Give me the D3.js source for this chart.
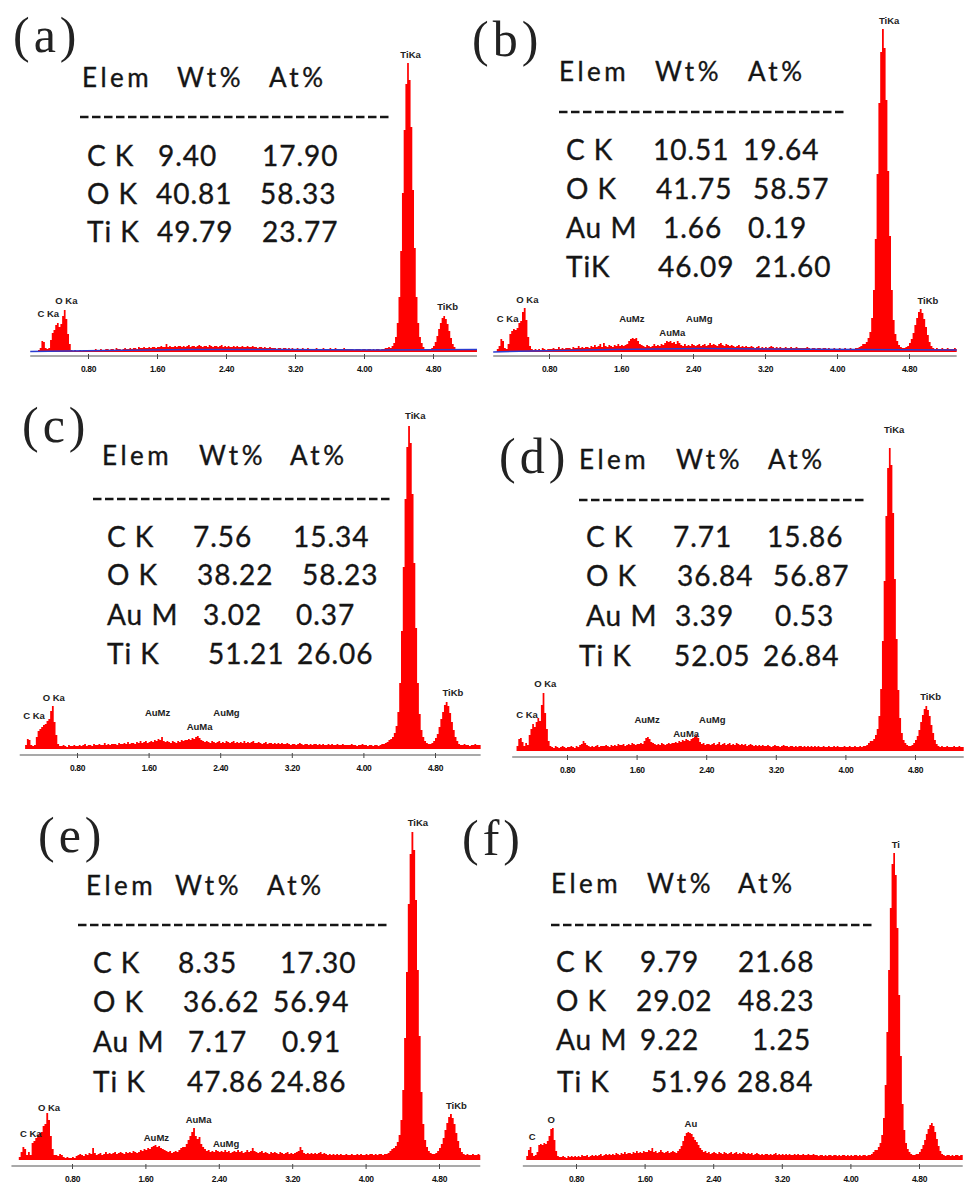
<!DOCTYPE html>
<html>
<head>
<meta charset="utf-8">
<script src="https://cdn.jsdelivr.net/npm/d3@7"></script>
<style>
body{margin:0;background:#fff;}
svg{display:block;}
.tbl{font-family:Lato,"Open Sans",sans-serif;fill:#151515;stroke:#151515;stroke-width:0.35px;}
.plab{font-family:"Liberation Sans",Arial,sans-serif;font-weight:bold;font-size:9.5px;fill:#222;}
.pname{font-family:"Liberation Serif","Times New Roman",serif;fill:#222;}
</style>
</head>
<body>
<div id="chart"></div>
<script>
// energy grid of the spectra (keV)
var E0 = 0.21, dE = 0.02;

var tickVals = [0.8, 1.6, 2.4, 3.2, 4.0, 4.8];
var tickLabels = ["0.80", "1.60", "2.40", "3.20", "4.00", "4.80"];

// counts (a.u.) per channel
var countsA = [
0,2,4,11,10,4,3,4,12,19,22,27,29,25,28,36,42,33,18,8,
2,1,2,1,1,2,1,2,2,1,2,2,1,2,3,2,2,3,2,2,
3,3,2,3,3,2,4,3,3,2,3,4,3,3,4,3,4,4,3,5,
4,4,5,4,4,5,4,5,5,4,5,5,6,5,5,8,5,6,5,5,
6,5,6,6,5,6,5,6,7,5,6,6,5,6,7,6,5,6,6,5,
7,6,5,6,6,5,6,7,5,6,5,6,5,5,6,5,6,5,5,6,
5,5,6,5,5,6,5,5,4,5,5,4,5,4,4,5,4,4,4,3,
4,4,3,4,4,3,4,3,4,3,3,4,3,3,4,3,3,4,3,3,
3,3,4,3,3,3,4,3,3,3,4,3,3,4,3,3,3,3,4,3,
3,3,3,3,2,3,3,3,2,3,3,2,3,3,2,3,2,3,3,2,
3,3,4,4,5,4,6,9,15,29,55,101,159,222,268,289,272,225,162,104,
55,29,15,9,5,3,2,2,3,4,6,10,16,23,29,34,36,33,28,21,
14,8,5,3,2,2,3,2,2,2,3,2,2,2,3,2,2,2,2,2
];
var countsB = [
0,3,6,13,11,4,3,8,18,21,23,22,24,29,31,40,44,32,15,6,
3,2,3,2,3,2,4,3,2,3,3,3,4,3,3,5,3,4,3,4,
4,4,3,5,4,4,6,4,5,4,5,5,4,6,5,7,5,6,8,5,
9,6,5,7,6,5,7,6,8,6,7,6,7,8,11,13,14,13,14,11,
8,7,6,5,7,6,5,6,8,6,7,6,8,7,9,11,10,11,9,10,
8,11,9,7,6,8,6,7,6,8,7,6,7,8,6,7,8,6,7,9,
7,8,7,6,8,9,7,6,8,7,6,7,6,5,6,7,5,6,5,6,
5,5,6,5,4,5,6,4,5,4,5,4,5,6,5,4,5,4,5,4,
4,5,4,4,5,4,4,5,4,4,4,4,4,5,4,3,4,4,3,4,
4,3,4,4,3,4,3,3,4,3,3,4,3,3,4,3,3,4,3,3,
4,4,5,6,8,8,10,14,20,34,62,113,178,249,300,323,304,252,181,116,
62,32,18,11,7,5,4,4,5,6,9,13,19,27,34,40,43,39,33,25,
17,10,6,4,3,4,3,3,4,3,3,4,3,3,3,4,3,3,3,3
];
var countsC = [
0,4,10,9,4,3,4,12,18,20,22,24,25,28,30,38,43,27,14,5,
3,3,4,3,2,4,3,3,4,3,3,4,3,4,5,3,4,4,3,5,
4,4,5,4,4,6,4,5,4,5,5,5,4,6,5,5,6,5,7,5,
6,6,5,7,6,8,6,7,8,6,7,8,7,9,8,10,9,12,8,7,
8,7,6,8,7,6,8,7,9,8,9,9,10,9,11,10,12,13,11,9,
8,7,8,7,6,8,7,6,7,8,6,7,6,8,7,6,7,8,6,7,
6,7,6,8,6,7,6,7,8,6,6,7,6,5,6,7,5,6,6,5,
6,5,6,5,6,5,5,6,5,4,5,5,4,5,6,5,4,5,5,4,
5,4,5,5,4,5,4,5,4,4,5,4,5,4,4,5,4,4,5,4,
4,4,4,5,4,4,3,4,4,5,4,4,3,4,4,3,4,4,3,4,
5,5,6,7,9,10,12,16,23,37,66,118,182,250,302,323,306,255,186,121,
66,35,19,12,8,6,5,5,6,8,11,15,22,30,37,44,47,43,36,27,
19,12,8,5,4,4,5,4,4,3,4,4,5,4,4,4,3,4,4,4
];
var countsD = [
0,5,12,13,9,5,8,6,16,22,27,24,29,33,30,46,58,38,22,10,
5,4,3,5,4,3,4,5,4,3,4,4,5,4,3,5,4,6,7,10,
8,6,5,4,5,4,5,6,4,5,5,5,6,5,4,6,5,6,5,7,
6,6,7,5,6,7,6,8,7,6,7,7,8,7,10,13,14,12,9,8,
7,6,7,6,8,7,6,7,8,7,8,8,9,8,10,9,11,10,12,11,
10,12,13,14,16,13,9,7,8,6,7,7,6,7,8,6,7,9,6,7,
8,6,7,8,6,7,6,8,7,6,7,6,7,5,6,7,6,5,6,5,
6,5,6,5,5,6,5,4,5,6,5,5,4,5,6,5,5,4,5,5,
4,5,4,5,5,4,5,4,5,4,5,4,5,4,5,4,4,5,4,4,
5,4,4,5,4,5,4,4,4,5,4,4,5,4,4,5,4,4,5,4,
5,5,6,8,10,10,12,16,22,35,62,110,170,235,283,303,286,238,172,112,
61,33,18,11,8,6,5,5,6,8,11,15,21,29,36,42,45,41,35,26,
18,11,7,5,4,5,4,4,5,4,4,4,5,4,4,5,4,4,4,4
];
var countsE = [
0,3,8,13,11,5,8,5,17,19,22,25,27,28,34,36,47,40,24,11,
5,5,4,6,5,3,2,3,2,2,3,2,4,5,6,5,4,6,5,7,
6,12,7,5,6,7,5,6,8,6,7,6,7,8,6,7,8,7,6,8,
7,8,7,9,8,7,8,10,9,11,10,12,11,13,14,15,13,14,12,11,
10,9,8,9,7,8,9,8,10,12,13,13,16,20,24,28,32,24,21,23,
16,13,11,9,10,8,9,8,10,9,8,9,8,10,8,9,7,8,9,8,
10,8,9,7,8,10,8,9,12,9,8,7,8,9,7,8,7,6,8,7,
8,7,6,8,7,6,7,8,6,7,6,7,8,9,13,10,7,6,7,6,
7,6,7,6,7,8,6,7,6,5,6,5,6,5,6,5,6,5,5,6,
5,5,6,5,5,6,5,6,5,5,6,5,6,6,5,6,5,6,6,5,
6,6,7,9,11,12,14,18,25,40,70,122,188,256,306,328,310,260,190,124,
68,36,20,13,9,7,6,6,7,9,12,16,22,30,37,43,46,42,36,27,
19,12,8,6,5,6,5,5,6,5,5,6,5,5,5,6,5,5,5,5
];
var countsF = [
0,4,10,13,7,4,5,8,15,16,15,17,16,19,24,31,32,20,9,4,
3,3,4,3,2,4,3,4,3,4,3,4,3,5,4,4,5,3,4,5,
4,5,4,5,6,4,5,6,5,6,5,6,5,7,6,5,7,6,8,6,
7,7,6,8,7,9,7,8,7,9,8,8,10,9,12,8,9,7,8,10,
8,7,8,9,7,8,9,8,7,9,11,14,19,24,27,28,27,26,23,20,
18,15,12,10,8,9,7,8,6,7,8,7,6,8,7,6,8,7,6,7,
8,6,7,8,6,7,6,8,7,6,7,6,7,5,6,7,6,5,6,5,
6,6,5,6,5,6,7,5,6,5,6,5,6,5,6,5,5,6,5,6,
5,5,6,5,5,6,5,5,6,5,5,4,5,5,4,5,4,5,5,4,
5,5,4,5,4,5,5,4,5,4,5,4,5,5,4,5,4,5,5,4,
5,5,6,8,10,10,13,17,25,42,75,128,190,252,296,307,285,232,165,104,
56,30,17,11,8,6,5,5,6,6,8,11,15,20,26,31,35,37,34,28,
21,14,9,6,5,4,5,5,4,5,4,5,5,4,5,5,4,5,5,4
];

// fitted background (blue) lines, [keV, counts]
var bgA = [[0.10,0.5],[1.0,1.5],[2.0,2.5],[3.0,2.5],[4.2,2],[5.4,2.5]];
var bgB = [[0.15,0],[0.6,1],[1.5,2.5],[2.5,3.5],[3.2,3],[4.2,2.5],[5.4,2]];

// peak labels [text, keV, counts]
var peaksA = [["TiKa",4.54,294],["O Ka",0.55,48],["C Ka",0.34,35],["TiKb",4.97,42]];
var peaksB = [["TiKa",4.58,328],["O Ka",0.56,49],["C Ka",0.34,30],["AuMz",1.72,30],["AuMa",2.17,16],["AuMg",2.47,30],["TiKb",5.01,48]];
var peaksC = [["TiKa",4.58,330],["O Ka",0.54,48],["C Ka",0.32,30],["AuMz",1.70,33],["AuMa",2.17,19],["AuMg",2.47,33],["TiKb",5.00,53]];
var peaksD = [["TiKa",4.56,318],["O Ka",0.55,64],["C Ka",0.34,33],["AuMz",1.72,28],["AuMa",2.17,14],["AuMg",2.47,28],["TiKb",4.98,51]];
var peaksE = [["TiKa",4.57,334],["O Ka",0.55,49],["C Ka",0.35,23],["AuMz",1.72,19],["AuMa",2.18,37],["AuMg",2.48,13],["TiKb",4.99,51]];
var peaksF = [["Ti",4.53,312],["O",0.51,37],["C",0.29,20],["Au",2.14,33]];

// quantification tables
var elemA = ["C K","O K","Ti K"];
var wtA = ["9.40","40.81","49.79"];
var atA = ["17.90","58.33","23.77"];
var elemB = ["C K","O K","Au M","TiK"];
var wtB = ["10.51","41.75","1.66","46.09"];
var atB = ["19.64","58.57","0.19","21.60"];
var elemC = ["C K","O K","Au M","Ti K"];
var wtC = ["7.56","38.22","3.02","51.21"];
var atC = ["15.34","58.23","0.37","26.06"];
var elemD = ["C K","O K","Au M","Ti K"];
var wtD = ["7.71","36.84","3.39","52.05"];
var atD = ["15.86","56.87","0.53","26.84"];
var elemE = ["C K","O K","Au M","Ti K"];
var wtE = ["8.35","36.62","7.17","47.86"];
var atE = ["17.30","56.94","0.91","24.86"];
var elemF = ["C K","O K","Au M","Ti K"];
var wtF = ["9.79","29.02","9.22","51.96"];
var atF = ["21.68","48.23","1.25","28.84"];

// layout of each panel
var panels = [
 {name:"(a)", counts:countsA, bg:bgA, peaks:peaksA, elem:elemA, wt:wtA, at:atA,
  x08:88, x48:433, eMin:0.13, eMax:5.31, base:352, axisY:356,
  lab:[13,52], headY:87, headX:[82,177,269], dashY:117, dashX:[80,390],
  rowY:[166,204,242], rowX:[[87,158,262],[87,156,260],[87,157,262]]},
 {name:"(b)", counts:countsB, bg:bgB, peaks:peaksB, elem:elemB, wt:wtB, at:atB,
  x08:549, x48:909, eMin:0.18, eMax:5.33, base:352, axisY:356,
  lab:[472,56], headY:81, headX:[559,655,748], dashY:112, dashX:[559,847],
  rowY:[160,199,238,277], rowX:[[566,653,743],[566,656,753],[566,663,748],[566,658,755]]},
 {name:"(c)", counts:countsC, bg:null, peaks:peaksC, elem:elemC, wt:wtC, at:atC,
  x08:77, x48:435, eMin:0.16, eMax:5.31, base:749, axisY:755,
  lab:[22,442], headY:465, headX:[102,199,290], dashY:499, dashX:[93,390],
  rowY:[547,585,625,664], rowX:[[107,193,293],[107,197,302],[107,203,296],[107,208,297]]},
 {name:"(d)", counts:countsD, bg:null, peaks:peaksD, elem:elemD, wt:wtD, at:atD,
  x08:567, x48:915, eMin:0.17, eMax:5.36, base:751, axisY:757,
  lab:[499,473], headY:469, headX:[579,676,768], dashY:500, dashX:[579,867],
  rowY:[547,586,626,666], rowX:[[586,673,767],[586,677,773],[586,675,775],[579,674,763]]},
 {name:"(e)", counts:countsE, bg:null, peaks:peaksE, elem:elemE, wt:wtE, at:atE,
  x08:72, x48:439, eMin:0.14, eMax:5.25, base:1160, axisY:1166,
  lab:[38,852], headY:895, headX:[86,175,267], dashY:925, dashX:[78,388],
  rowY:[973,1012,1052,1092], rowX:[[93,178,280],[93,183,273],[93,188,282],[93,187,270]]},
 {name:"(f)", counts:countsF, bg:null, peaks:peaksF, elem:elemF, wt:wtF, at:atF,
  x08:576, x48:919, eMin:0.18, eMax:5.31, base:1160, axisY:1166,
  lab:[462,855], headY:893, headX:[551,647,738], dashY:925, dashX:[551,872],
  rowY:[972,1011,1050,1092], rowX:[[556,640,738],[556,636,738],[556,640,752],[557,651,737]]}
];

var svg = d3.select("#chart").append("svg")
	.attr("width", 965)
	.attr("height", 1193)
	.style("background", "#fff");

panels.forEach(function(p, k){

	var g = svg.append("g").attr("class", "panel");

	var x = d3.scaleLinear().domain([0.8, 4.8]).range([p.x08, p.x48]);
	var y = d3.scaleLinear().domain([0, 340]).range([p.base, p.base - 340]);

	var clipId = "clip" + k;
	g.append("clipPath").attr("id", clipId)
		.append("rect")
		.attr("x", x(p.eMin)).attr("y", 0)
		.attr("width", x(p.eMax) - x(p.eMin))
		.attr("height", p.base + 2);

	var pts = p.counts.map(function(c, i){ return {e: E0 + i * dE, c: c}; });

	var area = d3.area()
		.curve(d3.curveStep)
		.x(function(d){ return x(d.e); })
		.y0(y(0))
		.y1(function(d){ return y(d.c); });

	g.append("path")
		.datum(pts)
		.attr("clip-path", "url(#" + clipId + ")")
		.attr("d", area)
		.attr("fill", "#ff0000");

	if (p.bg) {
		var bl = d3.line()
			.x(function(d){ return x(d[0]); })
			.y(function(d){ return y(d[1]); });
		g.append("path")
			.datum(p.bg)
			.attr("clip-path", "url(#" + clipId + ")")
			.attr("d", bl)
			.attr("fill", "none")
			.attr("stroke", "#2a3bd0")
			.attr("stroke-width", 1.4);
	}

	// energy axis
	var ax = d3.axisBottom(x)
		.tickValues(tickVals)
		.tickFormat(function(d, i){ return tickLabels[i]; })
		.tickSizeOuter(0)
		.tickSize(3);

	var axg = g.append("g")
		.attr("transform", "translate(0," + p.axisY + ")")
		.call(ax);
	axg.select(".domain").remove();
	axg.append("line")
		.attr("x1", x(p.eMin)).attr("x2", x(p.eMax))
		.attr("y1", 0).attr("y2", 0)
		.attr("stroke", "#555").attr("stroke-width", 1.2);
	axg.selectAll(".tick line").attr("y1", -2).attr("y2", 3).attr("stroke", "#444");
	axg.selectAll(".tick text")
		.attr("y", 16).attr("dy", null)
		.attr("fill", "#111")
		.style("font-family", "'Liberation Sans',Arial,sans-serif")
		.style("font-weight", "bold")
		.style("font-size", "8.5px")
		.style("letter-spacing", "-0.4px");

	// peak labels
	g.selectAll(".plab")
		.data(p.peaks)
		.enter().append("text")
		.attr("class", "plab")
		.attr("x", function(d){ return x(d[1]); })
		.attr("y", function(d){ return y(d[2]); })
		.attr("text-anchor", "middle")
		.text(function(d){ return d[0]; });

	// panel letter
	g.append("text")
		.attr("class", "pname")
		.attr("x", p.lab[0]).attr("y", p.lab[1])
		.style("font-size", "50px")
		.style("letter-spacing", "4px")
		.text(p.name);

	// table header
	["Elem", "Wt%", "At%"].forEach(function(t, j){
		g.append("text")
			.attr("class", "tbl")
			.attr("x", p.headX[j]).attr("y", p.headY)
			.style("font-size", "26px")
			.style("letter-spacing", "3.5px")
			.text(t);
	});

	g.append("line")
		.attr("x1", p.dashX[0]).attr("x2", p.dashX[1])
		.attr("y1", p.dashY).attr("y2", p.dashY)
		.attr("stroke", "#151515")
		.attr("stroke-width", 2.5)
		.attr("stroke-dasharray", "8.5,3.5");

	p.elem.forEach(function(el, r){
		[el, p.wt[r], p.at[r]].forEach(function(t, j){
			g.append("text")
				.attr("class", "tbl")
				.attr("x", p.rowX[r][j]).attr("y", p.rowY[r])
				.style("font-size", "28px")
				.style("letter-spacing", "1px")
				.text(t);
		});
	});
});
</script>
</body>
</html>
